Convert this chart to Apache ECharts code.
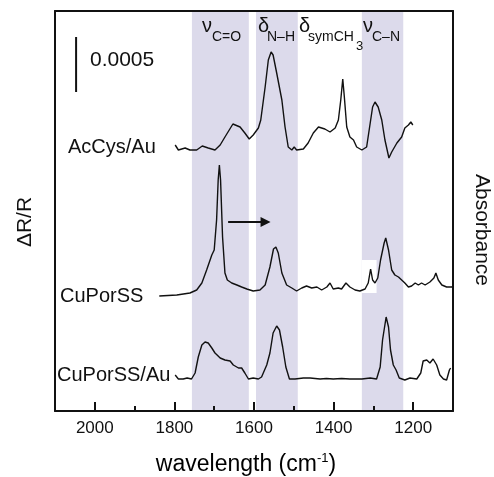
<!DOCTYPE html>
<html>
<head>
<meta charset="utf-8">
<script src="https://cdn.jsdelivr.net/npm/echarts@6/dist/echarts.min.js"></script>
<style>
  html, body { margin: 0; padding: 0; background: #fff; }
  #chart { width: 494px; height: 477px; }
</style>
</head>
<body>
<div id="chart"></div>
<script>
'use strict'

// spectra, [wavenumber, offset value] (arb. units, 5.4 = 0.0005)
var acCysAu = [
  [1798, 26.6], [1790, 26.1], [1773, 26.3], [1761, 26.1], [1744, 26.1], [1730, 26.5],
  [1715, 26.3], [1698, 26.1], [1685, 26.6], [1673, 27.4], [1653, 28.7], [1635, 28.4],
  [1623, 27.8], [1612, 27.2], [1602, 27.6], [1589, 28.3], [1583, 29.1], [1572, 32.4],
  [1564, 35.1], [1557, 35.9], [1552, 35.6], [1543, 33.8], [1530, 31.1], [1522, 28.4],
  [1514, 26.4], [1505, 26.1], [1499, 26.4], [1493, 26.1], [1476, 26.2], [1464, 26.8],
  [1451, 27.8], [1438, 28.4], [1422, 28.2], [1409, 27.9], [1396, 28.3], [1388, 29.1],
  [1382, 31.1], [1377, 33.2], [1373, 31.4], [1367, 28.4], [1359, 27.4], [1350, 27.1],
  [1342, 26.4], [1329, 26.1], [1317, 26.4], [1308, 28.8], [1302, 30.4], [1296, 30.9],
  [1288, 30.4], [1279, 29.1], [1271, 27.1], [1261, 25.3], [1254, 25.9], [1241, 26.8],
  [1229, 27.4], [1221, 28.3], [1212, 28.6], [1206, 28.9], [1201, 28.6]
];

var cuPorSS = [
  [1838, 11.5], [1794, 11.6], [1761, 11.8], [1744, 12.1], [1731, 12.8], [1719, 14.1],
  [1706, 15.6], [1700, 16.1], [1694, 19.1], [1690, 23.1], [1687, 24.6], [1684, 23.1],
  [1679, 17.4], [1673, 13.8], [1667, 13.1], [1656, 12.8], [1643, 12.6], [1631, 12.4],
  [1618, 12.2], [1602, 12.0], [1585, 12.1], [1572, 12.6], [1560, 14.4], [1551, 16.2],
  [1545, 16.4], [1539, 15.8], [1530, 13.8], [1518, 12.6], [1505, 12.3], [1493, 12.0],
  [1480, 12.3], [1468, 12.5], [1455, 12.3], [1442, 12.4], [1430, 12.1], [1417, 12.4],
  [1409, 12.8], [1401, 12.2], [1388, 12.3], [1380, 12.2], [1369, 12.8], [1359, 12.4],
  [1346, 12.1], [1334, 12.0], [1321, 12.2], [1313, 12.8], [1307, 14.2], [1302, 13.1],
  [1296, 12.8], [1289, 13.3], [1282, 15.1], [1273, 16.8], [1269, 17.3], [1262, 16.1],
  [1254, 14.1], [1246, 13.6], [1237, 13.4], [1229, 13.1], [1221, 12.8], [1212, 12.4],
  [1204, 12.5], [1195, 12.8], [1187, 12.6], [1179, 12.8], [1170, 12.6], [1158, 12.9],
  [1148, 13.3], [1143, 13.8], [1137, 13.1], [1128, 12.6], [1116, 12.4], [1103, 12.4],
  [1100, 12.45]
];

var cuPorSSAu = [
  [1798, 3.6], [1790, 3.2], [1778, 3.2], [1768, 3.3], [1757, 3.2], [1748, 3.8],
  [1740, 5.4], [1731, 6.6], [1723, 6.9], [1715, 6.8], [1706, 6.3], [1698, 5.8],
  [1685, 5.3], [1673, 5.1], [1660, 5.0], [1652, 4.6], [1639, 4.3], [1631, 4.3],
  [1623, 3.8], [1614, 3.2], [1602, 3.3], [1589, 3.2], [1581, 3.4], [1568, 4.6],
  [1560, 5.8], [1552, 7.8], [1543, 8.5], [1536, 8.1], [1528, 6.4], [1520, 4.4],
  [1511, 3.2], [1497, 3.2], [1476, 3.3], [1459, 3.3], [1434, 3.2], [1418, 3.25],
  [1401, 3.2], [1380, 3.25], [1359, 3.2], [1329, 3.2], [1308, 3.3], [1292, 3.2],
  [1283, 4.4], [1277, 7.1], [1268, 9.4], [1262, 8.4], [1257, 6.1], [1250, 4.6],
  [1243, 4.1], [1235, 3.3], [1221, 3.1], [1208, 3.3], [1191, 3.2], [1181, 3.8],
  [1175, 5.0], [1166, 5.1], [1158, 4.8], [1150, 5.2], [1141, 4.6], [1133, 3.6],
  [1124, 3.2], [1116, 3.1], [1109, 4.1], [1106, 4.3]
];

// shaded bands (wavenumber ranges)
var bands = [[1756, 1613], [1595, 1490], [1329, 1225]];
// white patch behind the 1310 peak of CuPorSS
var whitePatch = [[1329, 15.1], [1292, 11.8]];
// 0.0005 scale bar
var scaleBar = [[2047, 31.9], [2047, 37.4]];
// shift arrow
var shiftArrow = [[1665, 18.9], [1571, 18.9]];

var band = '#dcdaeb';
var font = 'Liberation Sans, Arial, sans-serif';

var chart = echarts.init(document.getElementById('chart'));

function trace(name, data) {
  return {
    name: name,
    type: 'line',
    data: data,
    z: 3,
    symbol: 'none',
    silent: true,
    lineStyle: { color: '#111', width: 1.4 }
  };
}

function txt(x, y, text, size, extra) {
  var el = { type: 'text', x: x, y: y, z: 100,
    style: { text: text, font: size + 'px ' + font, fill: '#111', verticalAlign: 'middle' } };
  if (extra) {
    for (var k in extra) el[k] = extra[k];
  }
  return el;
}

var series = [
  trace('AcCys/Au', acCysAu),
  trace('CuPorSS', cuPorSS),
  trace('CuPorSS/Au', cuPorSSAu),
  {
    name: 'scale',
    type: 'line',
    data: scaleBar,
    z: 3,
    symbol: 'none',
    silent: true,
    lineStyle: { color: '#111', width: 2 },
    markLine: {
      silent: true,
      z: 5,
      symbol: ['none', 'triangle'],
      symbolSize: [10, 10],
      label: { show: false },
      lineStyle: { color: '#111', width: 2, type: 'solid' },
      data: [[{ coord: shiftArrow[0] }, { coord: shiftArrow[1] }]]
    }
  }
];
series[0].markArea = {
  silent: true,
  z: 1,
  itemStyle: { color: band },
  data: bands.map(function (b) { return [{ xAxis: b[0] }, { xAxis: b[1] }]; })
};
series[1].markArea = {
  silent: true,
  z: 2,
  itemStyle: { color: '#fff' },
  data: [[{ coord: whitePatch[0] }, { coord: whitePatch[1] }]]
};

var option = {
  animation: false,
  backgroundColor: '#fff',
  grid: { left: 55, right: 41, top: 11, bottom: 66 },
  xAxis: [
    {
      type: 'value', position: 'bottom', min: 1100, max: 2100, inverse: true,
      minInterval: 200, maxInterval: 200, z: 10,
      axisLine: { show: true, lineStyle: { color: '#111', width: 2 } },
      axisTick: { show: true, inside: true, length: 9, lineStyle: { color: '#111', width: 2 } },
      axisLabel: { fontSize: 17, color: '#111', fontFamily: font, margin: 9,
        showMinLabel: false, showMaxLabel: false,
        formatter: function (v) { return String(v); } },
      splitLine: { show: false }
    },
    {
      type: 'value', position: 'bottom', offset: 0, min: 1100, max: 2100, inverse: true,
      interval: 100, z: 9,
      axisLine: { show: false },
      axisTick: { show: true, inside: true, length: 5, lineStyle: { color: '#111', width: 2 } },
      axisLabel: { show: false },
      splitLine: { show: false }
    },
    {
      type: 'value', position: 'top', min: 1100, max: 2100, inverse: true, z: 10,
      axisLine: { show: true, lineStyle: { color: '#111', width: 2 } },
      axisTick: { show: false }, axisLabel: { show: false }, splitLine: { show: false }
    }
  ],
  yAxis: [
    {
      type: 'value', position: 'left', min: 0, max: 40, z: 10,
      axisLine: { show: true, lineStyle: { color: '#111', width: 2 } },
      axisTick: { show: false }, axisLabel: { show: false }, splitLine: { show: false }
    },
    {
      type: 'value', position: 'right', min: 0, max: 40, z: 10,
      axisLine: { show: true, lineStyle: { color: '#111', width: 2 } },
      axisTick: { show: false }, axisLabel: { show: false }, splitLine: { show: false }
    }
  ],
  graphic: [
    // band labels
    txt(202, 26, 'ν', 20), txt(212, 37.5, 'C=O', 14),
    txt(258, 26, 'δ', 20), txt(267, 37.5, 'N–H', 14),
    txt(299, 26, 'δ', 20), txt(308, 37.5, 'symCH', 14), txt(356, 46, '3', 13),
    txt(363, 26, 'ν', 20), txt(372, 37.5, 'C–N', 14),
    // scale label
    txt(90, 60.5, '0.0005', 21),
    // trace labels
    txt(68, 147, 'AcCys/Au', 20),
    txt(60, 296, 'CuPorSS', 20),
    txt(57, 375.5, 'CuPorSS/Au', 20),
    // axis titles
    { type: 'text', x: 25, y: 222, rotation: Math.PI / 2, z: 100,
      style: { text: 'ΔR/R', font: '21px ' + font, fill: '#111', align: 'center', verticalAlign: 'middle' } },
    { type: 'text', x: 482, y: 230, rotation: -Math.PI / 2, z: 100,
      style: { text: 'Absorbance', font: '21px ' + font, fill: '#111', align: 'center', verticalAlign: 'middle' } },
    { type: 'text', x: 246, y: 465, z: 100,
      style: {
        text: '{a|wavelength (cm}{s|-1}{a|)}', align: 'center', verticalAlign: 'middle',
        rich: {
          a: { fontSize: 23, fontFamily: font, color: '#111', lineHeight: 26 },
          s: { fontSize: 13, fontFamily: font, color: '#111', verticalAlign: 'top' }
        }
      } }
  ],
  series: series
};

chart.setOption(option);
</script>
</body>
</html>
